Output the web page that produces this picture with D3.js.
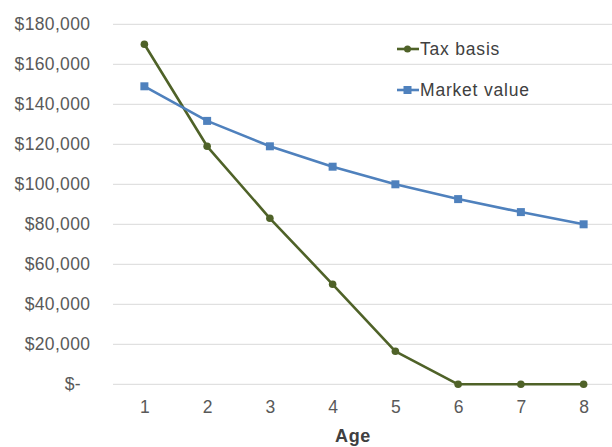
<!DOCTYPE html>
<html>
<head>
<meta charset="utf-8">
<script src="https://cdn.jsdelivr.net/npm/d3@7"></script>
<style>
  html, body { margin: 0; padding: 0; background: #fff; }
  svg { display: block; font-family: "Liberation Sans", Arial, sans-serif; }
</style>
</head>
<body>
<svg id="chart" width="612" height="447"></svg>
<script>
// Vehicle age (years)
const ages = [1, 2, 3, 4, 5, 6, 7, 8];
// Depreciated tax basis by year
const taxBasis = [170000, 119000, 83000, 50000, 16500, 0, 0, 0];
// Estimated market value by year
const marketValue = [149000, 131700, 119000, 108800, 100000, 92600, 86100, 80000];
// Y axis tick values
const yTicks = [0, 20000, 40000, 60000, 80000, 100000, 120000, 140000, 160000, 180000];

const seriesNames = ["Tax basis", "Market value"];
const seriesColors = ["#4f6228", "#4f81bd"];

const svg = d3.select("#chart");

const plot = { left: 113, right: 615, top: 24.3, bottom: 384.3 };

const x = d3.scalePoint()
  .domain(ages)
  .range([plot.left, plot.right])
  .padding(0.5);

const y = d3.scaleLinear()
  .domain([0, 180000])
  .range([plot.bottom, plot.top]);

const fmt = v => v === 0 ? "$-" : "$" + d3.format(",")(v);

// Horizontal gridlines
svg.append("g")
  .selectAll("line")
  .data(yTicks)
  .join("line")
  .attr("x1", plot.left)
  .attr("x2", plot.right)
  .attr("y1", d => y(d))
  .attr("y2", d => y(d))
  .attr("stroke", "#d9d9d9")
  .attr("stroke-width", 1);

// Y axis labels
const yAxis = svg.append("g")
  .attr("transform", `translate(90,0)`)
  .call(d3.axisLeft(y).tickValues(yTicks).tickFormat(fmt).tickSize(0).tickPadding(0));
yAxis.select(".domain").remove();
yAxis.selectAll("text")
  .attr("fill", "#595959")
  .attr("font-size", "17.5px")
  .attr("letter-spacing", "0.35px")
  .attr("font-family", "Liberation Sans, Arial, sans-serif")
  .attr("dx", d => d === 0 ? -9 : 0.35);

// X axis labels
const xAxis = svg.append("g")
  .attr("transform", `translate(0,${plot.bottom})`)
  .call(d3.axisBottom(x).tickSize(0).tickPadding(0));
xAxis.select(".domain").remove();
xAxis.selectAll("text")
  .attr("fill", "#595959")
  .attr("font-size", "17.5px")
  .attr("font-family", "Liberation Sans, Arial, sans-serif")
  .attr("dy", null)
  .attr("y", 22.5)
  .attr("dominant-baseline", "central");

// Axis title
svg.append("text")
  .attr("x", 353)
  .attr("y", 442)
  .attr("text-anchor", "middle")
  .attr("font-size", "18px")
  .attr("letter-spacing", "0.6px")
  .attr("font-weight", "bold")
  .attr("fill", "#404040")
  .text("Age");

const line = d3.line()
  .x((d, i) => x(ages[i]))
  .y(d => y(d));

const seriesData = [taxBasis, marketValue];

seriesData.forEach((vals, si) => {
  const g = svg.append("g");
  g.append("path")
    .datum(vals)
    .attr("d", line)
    .attr("fill", "none")
    .attr("stroke", seriesColors[si])
    .attr("stroke-width", 2.6)
    .attr("stroke-linejoin", "round");
  if (si === 0) {
    g.selectAll("circle")
      .data(vals)
      .join("circle")
      .attr("cx", (d, i) => x(ages[i]))
      .attr("cy", d => y(d))
      .attr("r", 3.8)
      .attr("fill", seriesColors[si]);
  } else {
    g.selectAll("rect")
      .data(vals)
      .join("rect")
      .attr("x", (d, i) => x(ages[i]) - 4)
      .attr("y", d => y(d) - 4)
      .attr("width", 8)
      .attr("height", 8)
      .attr("fill", seriesColors[si]);
  }
});

// Legend
const legend = svg.append("g");
const legendY = [49, 90];
seriesNames.forEach((name, si) => {
  const gy = legendY[si];
  legend.append("line")
    .attr("x1", 397).attr("x2", 419)
    .attr("y1", gy).attr("y2", gy)
    .attr("stroke", seriesColors[si])
    .attr("stroke-width", 2.6);
  if (si === 0) {
    legend.append("circle")
      .attr("cx", 407.5).attr("cy", gy).attr("r", 3.5)
      .attr("fill", seriesColors[si]);
  } else {
    legend.append("rect")
      .attr("x", 403.5).attr("y", gy - 4).attr("width", 8).attr("height", 8)
      .attr("fill", seriesColors[si]);
  }
  legend.append("text")
    .attr("x", 420)
    .attr("y", gy)
    .attr("dominant-baseline", "central")
    .attr("font-size", "17.5px")
    .attr("letter-spacing", "0.8px")
    .attr("fill", "#404040")
    .text(name);
});
</script>
</body>
</html>
